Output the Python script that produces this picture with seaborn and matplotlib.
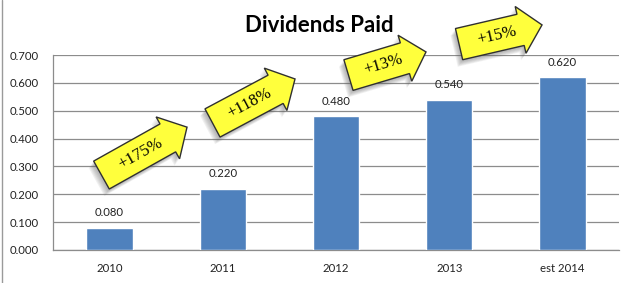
import numpy as np
import pandas as pd
import matplotlib
matplotlib.use("Agg")
import matplotlib.pyplot as plt
import seaborn as sns
from matplotlib.patches import Polygon
from matplotlib.transforms import IdentityTransform
from matplotlib.ticker import FormatStrFormatter, MultipleLocator
from matplotlib.lines import Line2D

# ---- data ----
years = ["2010", "2011", "2012", "2013", "est 2014"]
dividends = [0.080, 0.220, 0.480, 0.540, 0.620]
growth_labels = ["+175%", "+118%", "+13%", "+15%"]

# annotation arrow placement (data coords: tail centre, tip)
arrow_tails = [(-0.072, 0.269), (0.909, 0.456), (2.110, 0.628), (3.087, 0.739)]
arrow_tips = [(0.684, 0.441), (1.638, 0.614), (2.795, 0.711), (3.820, 0.808)]

W, H = 631, 283
sns.set_style("white")
plt.rcParams["font.family"] = ["Lato", "DejaVu Sans"]

fig = plt.figure(figsize=(W / 100, H / 100), dpi=100)
ax = fig.add_axes([53 / W, 1 - 250 / H, 566 / W, 195 / H])

df = pd.DataFrame({"year": years, "dividend": dividends})
sns.barplot(data=df, x="year", y="dividend", color="#4F81BD", saturation=1,
            width=0.41, ax=ax, zorder=3)

ax.set_xlim(-0.5, 4.5)
ax.set_ylim(0, 0.7)
ax.yaxis.set_major_locator(MultipleLocator(0.1))
ax.yaxis.set_major_formatter(FormatStrFormatter("%.3f"))
ax.set_xlabel("")
ax.set_ylabel("")
ax.yaxis.grid(True, color="#8c8c8c", lw=0.9, zorder=0)
ax.set_axisbelow(True)
for s in ["top", "right"]:
    ax.spines[s].set_visible(False)
for s in ["left", "bottom"]:
    ax.spines[s].set_color("#8c8c8c")
    ax.spines[s].set_linewidth(0.9)
ax.tick_params(axis="both", length=0, labelsize=8.2, colors="#222222")
ax.tick_params(axis="y", pad=10)
ax.tick_params(axis="x", pad=9)

for cont in ax.containers:
    ax.bar_label(cont, fmt="%.3f", padding=7, fontsize=8.2, color="#222222")

fig.text(319 / W, 1 - 25 / H, "Dividends Paid", ha="center", va="center",
         fontsize=16, fontweight="bold", color="black")

# left chart border
fig.add_artist(Line2D([1.5 / W, 1.5 / W], [0, 1], color="#9a9a9a", lw=1,
                      transform=fig.transFigure))


def draw_arrow(tail, tip, label):
    T = ax.transData.transform(tail)
    P = ax.transData.transform(tip)
    d = P - T
    L = np.hypot(*d)
    u = d / L
    n = np.array([-u[1], u[0]])
    w, h, hl = 16, 24, 22
    B = P - u * hl
    pts = np.array([T + n * w, B + n * w, B + n * h, P,
                    B - n * h, B - n * w, T - n * w])
    for off in [7, 6, 5, 4, 3, 2]:
        sh = pts + np.array([-off * 0.7, -off])
        fig.add_artist(Polygon(sh, closed=True, fc="#606060", ec="none",
                               alpha=0.09, transform=IdentityTransform(),
                               zorder=4))
    fig.add_artist(Polygon(pts, closed=True, fc="#FFFF3C", ec="#303030", lw=1,
                           transform=IdentityTransform(), zorder=5))
    ang = np.degrees(np.arctan2(d[1], d[0]))
    c = T + 0.45 * d
    fig.text(c[0], c[1], label, rotation=ang, rotation_mode="anchor",
             ha="center", va="center", family=["Liberation Serif"],
             fontsize=12, color="black", transform=IdentityTransform(),
             zorder=6)


for t, p, lab in zip(arrow_tails, arrow_tips, growth_labels):
    draw_arrow(t, p, lab)

fig.savefig("out.png", dpi=100, facecolor="white")
